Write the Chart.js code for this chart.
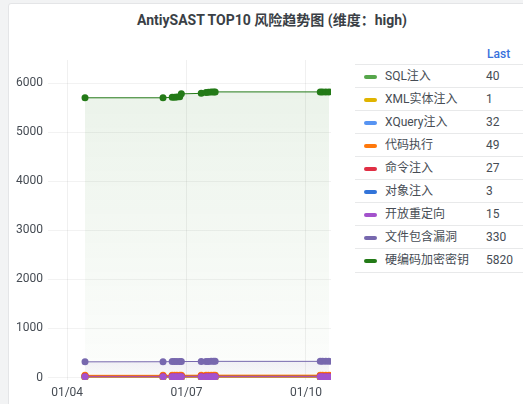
<!DOCTYPE html>
<html>
<head>
<meta charset="utf-8">
<script src="https://cdn.jsdelivr.net/npm/chart.js@4.4.0/dist/chart.umd.min.js"></script>
<style>
  html, body { margin: 0; padding: 0; background: #f2f3f4; }
  body { width: 523px; height: 404px; overflow: hidden; position: relative;
         font-family: Roboto, "Noto Sans CJK SC", sans-serif; color: #464c54; }
  #panel { position: absolute; left: 8px; top: 3px; width: 530px; height: 420px;
           background: #fff; border: 1px solid #e4e5e7; border-radius: 3px; }
  #title { position: absolute; left: 9px; width: 526px; top: 9px; text-align: center;
           font-size: 14px; font-weight: bold; color: #3a3f46; }
  #chart { position: absolute; left: 8px; top: 40px; }
  #lastHead { position: absolute; left: 487px; top: 47px; font-size: 12px; font-weight: 500; color: #3871dc; }
  .row { position: absolute; left: 355px; width: 170px; height: 23px; border-top: 1px solid #e8e9ea;
         font-size: 12px; line-height: 23px; }
  .row .sw { position: absolute; left: 9px; top: 10px; width: 13px; height: 4px; border-radius: 2px; }
  .row .nm { position: absolute; left: 30px; top: 0; }
  .row .vl { position: absolute; left: 131px; top: 0; }
</style>
</head>
<body>
<div id="panel"></div>
<div id="title">AntiySAST TOP10 风险趋势图 (维度：high)</div>
<canvas id="chart" width="337" height="364"></canvas>
<div id="lastHead">Last</div>
<div id="legend"></div>
<script>
// time of each sample, in days of January
const days = [4.45, 6.41, 6.64, 6.70, 6.76, 6.83, 6.87, 7.37, 7.49, 7.55, 7.62, 7.68, 7.72, 10.36, 10.42, 10.50, 10.58];

const tickDays = [4, 7, 10];
const tickLabels = ['01/04', '01/07', '01/10'];
const yTicks = [0, 1000, 2000, 3000, 4000, 5000, 6000];

const seriesNames = ['SQL注入', 'XML实体注入', 'XQuery注入', '代码执行', '命令注入', '对象注入', '开放重定向', '文件包含漏洞', '硬编码加密密钥'];
const seriesColors = ['#56A64B', '#E0B400', '#5794F2', '#FF780A', '#E02F44', '#3274D9', '#A352CC', '#7768AE', '#237A17'];
const drawOrder = [3, 3, 3, 2, 1, 3, 0, 3, 3];

const sqlInjection   = [36, 36, 37, 37, 37, 38, 38, 39, 39, 40, 40, 40, 40, 40, 40, 40, 40];
const xmlEntity      = [1, 1, 1, 1, 1, 1, 1, 1, 1, 1, 1, 1, 1, 1, 1, 1, 1];
const xqueryInject   = [30, 30, 30, 31, 31, 31, 31, 32, 32, 32, 32, 32, 32, 32, 32, 32, 32];
const codeExec       = [45, 45, 46, 46, 46, 47, 47, 48, 48, 49, 49, 49, 49, 49, 49, 49, 49];
const cmdInject      = [25, 25, 25, 26, 26, 26, 26, 27, 27, 27, 27, 27, 27, 27, 27, 27, 27];
const objectInject   = [3, 3, 3, 3, 3, 3, 3, 3, 3, 3, 3, 3, 3, 3, 3, 3, 3];
const openRedirect   = [14, 14, 14, 14, 15, 15, 15, 15, 15, 15, 15, 15, 15, 15, 15, 15, 15];
const fileInclude    = [320, 322, 325, 325, 325, 325, 326, 327, 328, 328, 330, 330, 330, 330, 330, 330, 330];
const hardcodedKey   = [5700, 5700, 5710, 5710, 5715, 5720, 5780, 5790, 5810, 5815, 5820, 5820, 5820, 5820, 5820, 5820, 5820];

const seriesValues = [sqlInjection, xmlEntity, xqueryInject, codeExec, cmdInject, objectInject, openRedirect, fileInclude, hardcodedKey];

function rgba(hex, a) {
  const n = parseInt(hex.slice(1), 16);
  return 'rgba(' + (n >> 16) + ',' + ((n >> 8) & 255) + ',' + (n & 255) + ',' + a + ')';
}

function fillFor(color, values) {
  return function (c) {
    const chart = c.chart;
    const area = chart.chartArea;
    if (!area) return null;
    const top = chart.scales.y.getPixelForValue(Math.max(...values));
    const g = chart.ctx.createLinearGradient(0, top, 0, area.bottom);
    g.addColorStop(0, rgba(color, 0.09));
    g.addColorStop(1, rgba(color, 0.01));
    return g;
  };
}

const datasets = seriesNames.map((name, i) => ({
  label: name,
  data: days.map((d, j) => ({ x: d, y: seriesValues[i][j] })),
  borderColor: seriesColors[i],
  backgroundColor: fillFor(seriesColors[i], seriesValues[i]),
  pointBackgroundColor: seriesColors[i],
  pointBorderWidth: 0,
  pointRadius: 3.5,
  borderWidth: 1,
  fill: 'origin',
  order: drawOrder[i]
}));

let ctx = document.getElementById('chart').getContext('2d');

const config = {
  type: 'line',
  data: { datasets: datasets },
  options: {
    responsive: false,
    animation: false,
    layout: { padding: { top: 20, right: 14, left: 0, bottom: 0 } },
    plugins: { legend: { display: false }, tooltip: { enabled: false } },
    scales: {
      x: {
        type: 'linear',
        min: 3.52,
        max: 10.63,
        afterBuildTicks: (scale) => { scale.ticks = tickDays.map(v => ({ value: v })); },
        afterFit: (scale) => { scale.height = 24; },
        ticks: {
          padding: 6,
          color: '#464c54',
          font: { size: 12, family: 'Roboto' },
          maxRotation: 0,
          callback: (v) => tickLabels[tickDays.indexOf(v)]
        },
        grid: { color: 'rgba(0,0,0,0.06)', drawTicks: false },
        border: { display: false }
      },
      y: {
        min: -50,
        max: 6470,
        afterBuildTicks: (scale) => { scale.ticks = yTicks.map(v => ({ value: v })); },
        afterFit: (scale) => { scale.width = 40; },
        ticks: {
          padding: 5,
          color: '#464c54',
          font: { size: 12, family: 'Roboto' },
          callback: (v) => String(v)
        },
        grid: { color: 'rgba(0,0,0,0.05)', drawTicks: false },
        border: { display: false }
      }
    }
  }
};

let myChart = new Chart(ctx, config);

// legend table with last values
const legend = document.getElementById('legend');
seriesNames.forEach((name, i) => {
  const row = document.createElement('div');
  row.className = 'row';
  row.style.top = (64 + i * 23) + 'px';
  if (i === seriesNames.length - 1) row.style.borderBottom = '1px solid #e8e9ea';
  const vals = seriesValues[i];
  row.innerHTML = '<span class="sw" style="background:' + seriesColors[i] + '"></span>' +
    '<span class="nm">' + name + '</span><span class="vl">' + vals[vals.length - 1] + '</span>';
  legend.appendChild(row);
});
</script>
</body>
</html>
